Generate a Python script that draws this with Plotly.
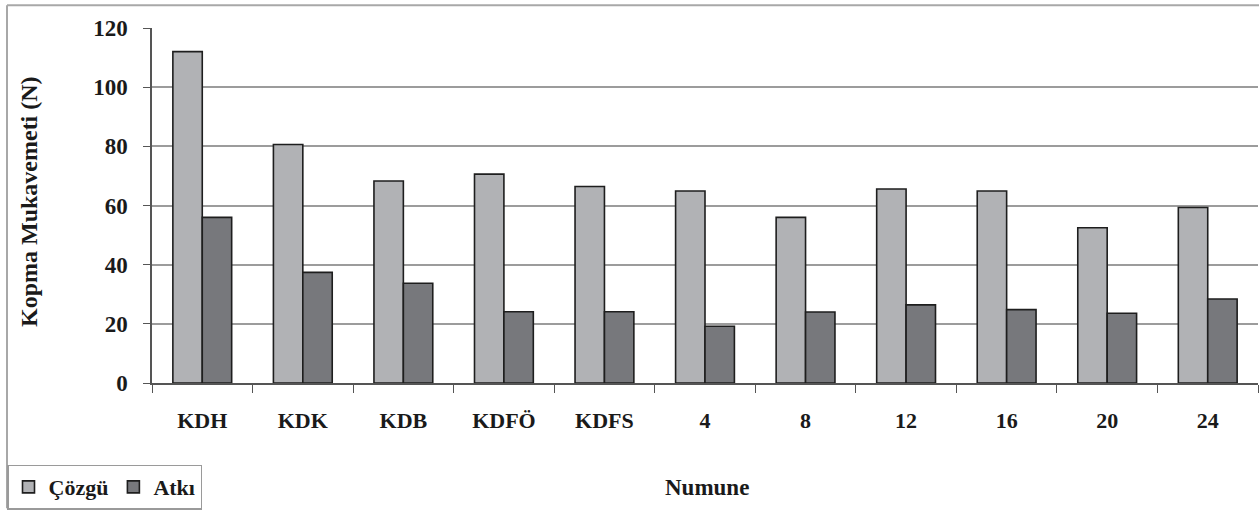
import plotly.graph_objects as go

categories = ["KDH", "KDK", "KDB", "KDFÖ", "KDFS", "4", "8", "12", "16", "20", "24"]
cozgu = [112, 80.6, 68.3, 70.6, 66.4, 64.9, 56.0, 65.6, 64.9, 52.5, 59.3]
atki = [56.0, 37.4, 33.7, 24.1, 24.1, 19.2, 24.0, 26.4, 24.8, 23.6, 28.4]
y_ticks = [0, 20, 40, 60, 80, 100, 120]

FONT = "Liberation Serif, Times New Roman, serif"
W, H = 1259, 511
L, R, T, B = 152, 1, 28, 126
PW, PH = W - L - R, H - T - B


def px_x(x):
    return (x - L) / PW


def px_y(y):
    return (H - B - y) / PH


fig = go.Figure()
fig.add_trace(go.Bar(
    name="Çözgü", x=categories, y=cozgu,
    marker=dict(color="#B1B2B5", line=dict(color="#1e1e1e", width=1.6)),
))
fig.add_trace(go.Bar(
    name="Atkı", x=categories, y=atki,
    marker=dict(color="#77787C", line=dict(color="#1e1e1e", width=1.6)),
))

fig.update_layout(
    width=W, height=H,
    margin=dict(l=L, r=R, t=T, b=B, pad=0),
    paper_bgcolor="white", plot_bgcolor="white",
    barmode="group", bargap=0.415, bargroupgap=0,
    font=dict(family=FONT, size=22, color="#1a1a1a", weight="bold"),
    showlegend=True,
    legend=dict(
        orientation="h",
        x=px_x(7), y=px_y(467), xanchor="left", yanchor="top",
        bgcolor="white", bordercolor="#9a9a9a", borderwidth=1.5,
        font=dict(family=FONT, size=22, color="#1a1a1a", weight="bold"),
        itemwidth=30, tracegroupgap=0,
    ),
    xaxis=dict(
        showline=True, linecolor="#555", linewidth=1.5,
        ticks="outside", tickson="boundaries", ticklen=8, tickcolor="#555",
        tickwidth=1.2, ticklabelstandoff=17,
        showgrid=False,
        tickfont=dict(family=FONT, size=22, color="#1a1a1a", weight="bold"),
    ),
    yaxis=dict(
        range=[0, 120], tickvals=y_ticks,
        showline=True, linecolor="#555", linewidth=1.5,
        ticks="outside", ticklen=7, tickcolor="#555", tickwidth=1.2,
        showgrid=True, gridcolor="#9c9c9c", gridwidth=1.5,
        zeroline=False, ticklabelstandoff=11,
        tickfont=dict(family=FONT, size=23, color="#1a1a1a", weight="bold"),
    ),
)

# Axis titles
fig.add_annotation(
    text="Kopma Mukavemeti (N)", textangle=-90,
    xref="paper", yref="paper", x=px_x(29), y=px_y(203),
    xanchor="center", yanchor="middle", showarrow=False,
    font=dict(family=FONT, size=24, color="#1a1a1a", weight="bold"),
)
fig.add_annotation(
    text="Numune",
    xref="paper", yref="paper", x=px_x(707), y=px_y(490),
    xanchor="center", yanchor="middle", showarrow=False,
    font=dict(family=FONT, size=23, color="#1a1a1a", weight="bold"),
)

# Chart frame
frame = dict(color="#a8a8a8", width=2)
fig.add_shape(type="line", xref="paper", yref="paper",
              x0=px_x(7), x1=px_x(1259), y0=px_y(5), y1=px_y(5), line=frame)
fig.add_shape(type="line", xref="paper", yref="paper",
              x0=px_x(7), x1=px_x(7), y0=px_y(5), y1=px_y(511), line=frame)

fig.write_html("out.html")
